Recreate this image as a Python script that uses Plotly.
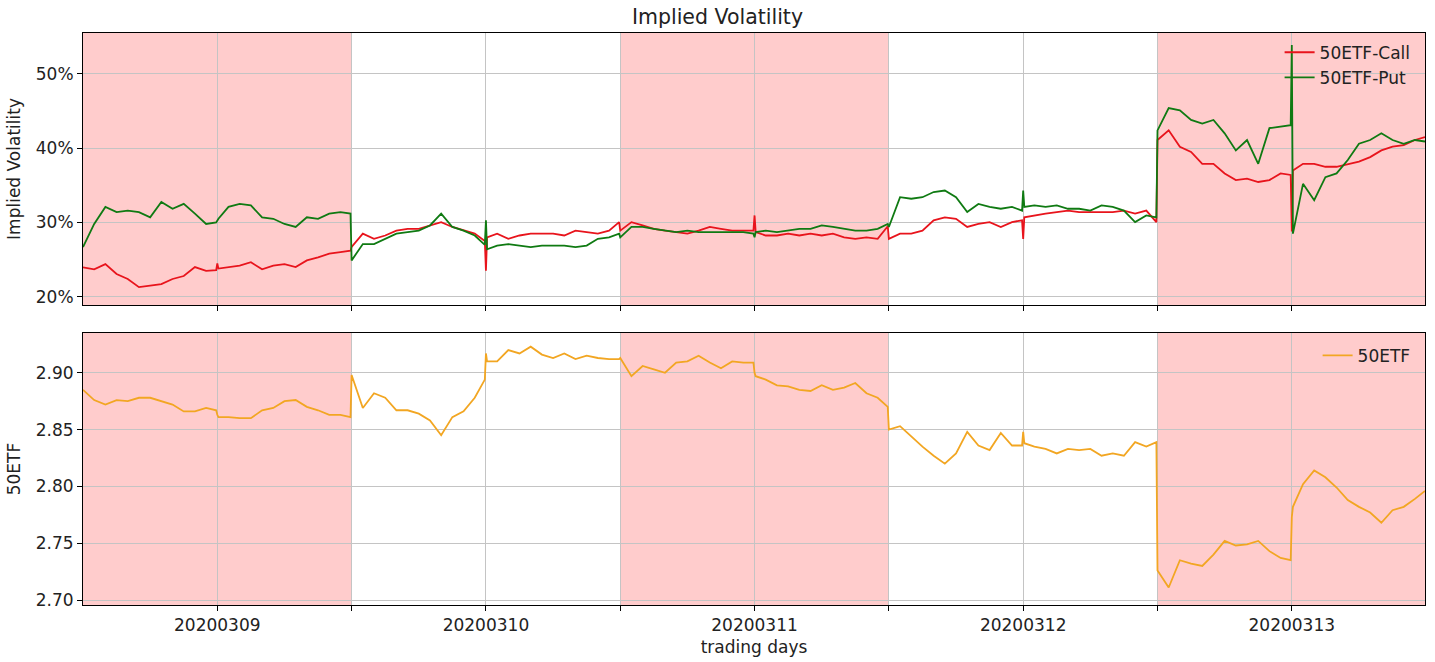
import plotly.graph_objects as go
from plotly.subplots import make_subplots

DAYS = ["20200309", "20200310", "20200311", "20200312", "20200313"]
MINUTES_PER_DAY = 240
# intraday sample offsets (minutes since open)
OFFSETS = [0, 10, 20, 30, 40, 50, 60, 70, 80, 90, 100, 110, 119, 120, 121,
           130, 140, 150, 160, 170, 180, 190, 200, 210, 220, 230, 239]
SHADED_DAYS = [0, 2, 4]

# implied volatility of calls, %, 27 samples per day
CALL_IV = [
    23.97, 23.7, 24.4, 23.07, 22.4, 21.3, 21.5, 21.7, 22.4, 22.8, 24.0, 23.5,
    23.6, 24.5, 23.8,
    24.0, 24.2, 24.65, 23.7, 24.2, 24.4, 24.0, 24.9, 25.3, 25.8, 26.0, 26.2,
    26.7, 28.5, 27.8, 28.25, 28.9, 29.15, 29.15, 29.6, 30.05, 29.4, 28.9, 28.5,
    27.5, 23.5, 28.0,
    28.5, 27.8, 28.25, 28.5, 28.5, 28.5, 28.25, 28.9, 28.7, 28.5, 28.9, 30.05,
    28.9, 30.05, 29.6, 29.15, 28.9, 28.7, 28.5, 28.9, 29.4, 29.15, 28.9, 28.9,
    28.9, 30.95, 28.7,
    28.25, 28.25, 28.5, 28.25, 28.5, 28.25, 28.5, 28.0, 27.8, 28.0, 27.8, 29.5,
    27.8, 28.5, 28.5, 28.9, 30.3, 30.7, 30.5, 29.4, 29.8, 30.05, 29.4, 30.05,
    30.3, 27.8, 30.7,
    30.95, 31.2, 31.4, 31.6, 31.4, 31.4, 31.4, 31.4, 31.6, 31.2, 31.6, 30.05,
    41.1, 42.4, 40.2, 39.5, 37.9, 37.9, 36.6, 35.7, 35.9, 35.45, 35.7, 36.6,
    36.4, 28.8, 37.0,
    37.9, 37.9, 37.5, 37.5, 37.9, 38.2, 38.8, 39.7, 40.2, 40.4, 41.1, 41.5,
]

# implied volatility of puts, %
PUT_IV = [
    26.7, 29.8, 32.1, 31.4, 31.6, 31.4, 30.7, 32.75, 31.85, 32.5, 31.2, 29.8,
    30.0, 30.3, 30.5,
    32.1, 32.5, 32.3, 30.7, 30.5, 29.8, 29.4, 30.7, 30.5, 31.2, 31.4, 31.2,
    24.9, 27.1, 27.1, 27.8, 28.5, 28.7, 28.9, 29.6, 31.2, 29.4, 28.9, 28.25,
    27.0, 30.3, 26.4,
    26.9, 27.1, 26.9, 26.7, 26.9, 26.9, 26.9, 26.7, 26.9, 27.8, 28.0, 28.5,
    28.0, 29.4, 29.4, 29.15, 28.9, 28.7, 28.9, 28.7, 28.7, 28.7, 28.7, 28.7,
    28.5, 28.0, 28.7,
    28.9, 28.7, 28.9, 29.15, 29.15, 29.6, 29.4, 29.15, 28.9, 28.9, 29.15, 29.8,
    29.4, 33.4, 33.2, 33.4, 34.1, 34.3, 33.4, 31.4, 32.5, 32.1, 31.85, 32.1,
    31.6, 34.3, 32.1,
    32.3, 32.1, 32.3, 31.85, 31.85, 31.6, 32.3, 32.1, 31.6, 30.05, 30.95, 30.7,
    42.4, 45.4, 45.1, 43.8, 43.3, 43.8, 42.0, 39.7, 41.1, 37.9, 42.7, 42.9,
    43.1, 53.9, 28.5,
    35.2, 33.0, 36.1, 36.6, 38.4, 40.6, 41.1, 42.0, 41.1, 40.6, 41.1, 40.9,
]

# 50ETF price
ETF = [
    2.885, 2.876, 2.872, 2.876, 2.875, 2.878, 2.878, 2.875, 2.872, 2.866, 2.866, 2.869,
    2.867, 2.863, 2.861,
    2.861, 2.860, 2.860, 2.867, 2.869, 2.875, 2.876, 2.870, 2.867, 2.863, 2.863, 2.861,
    2.898, 2.869, 2.882, 2.878, 2.867, 2.867, 2.864, 2.858, 2.845, 2.861, 2.866, 2.878,
    2.894, 2.917, 2.910,
    2.910, 2.920, 2.917, 2.923, 2.916, 2.913, 2.917, 2.912, 2.915, 2.913, 2.912, 2.912,
    2.913, 2.897, 2.906, 2.903, 2.900, 2.909, 2.910, 2.915, 2.909, 2.904, 2.910, 2.909,
    2.909, 2.900, 2.897,
    2.894, 2.889, 2.888, 2.885, 2.884, 2.889, 2.885, 2.887, 2.891, 2.882, 2.878, 2.870,
    2.850, 2.853, 2.844, 2.835, 2.827, 2.820, 2.829, 2.848, 2.836, 2.832, 2.847, 2.836,
    2.836, 2.848, 2.838,
    2.835, 2.833, 2.829, 2.833, 2.832, 2.833, 2.827, 2.829, 2.827, 2.839, 2.835, 2.839,
    2.726, 2.711, 2.735, 2.732, 2.730, 2.740, 2.752, 2.748, 2.749, 2.752, 2.743, 2.737,
    2.735, 2.773, 2.782,
    2.802, 2.814, 2.808, 2.799, 2.788, 2.782, 2.777, 2.768, 2.779, 2.782, 2.789, 2.796,
]

IV_TICKS = [20, 30, 40, 50]
ETF_TICKS = [2.70, 2.75, 2.80, 2.85, 2.90]

x = [d * MINUTES_PER_DAY + o for d in range(len(DAYS)) for o in OFFSETS]
x_end = len(DAYS) * MINUTES_PER_DAY - 1

tickvals, ticktext = [], []
for d, name in enumerate(DAYS):
    tickvals.append(d * MINUTES_PER_DAY + MINUTES_PER_DAY / 2)
    ticktext.append(name)
    if d > 0:
        tickvals.append(d * MINUTES_PER_DAY)
        ticktext.append("")

FONT = "DejaVu Sans"
TXT = "#222222"
FS = 17
fig = make_subplots(rows=2, cols=1, shared_xaxes=True, vertical_spacing=0.049)

fig.add_trace(go.Scatter(x=x, y=CALL_IV, mode="lines", name="50ETF-Call",
                         line=dict(color="#e8141c", width=1.8), legend="legend"), row=1, col=1)
fig.add_trace(go.Scatter(x=x, y=PUT_IV, mode="lines", name="50ETF-Put",
                         line=dict(color="#0f7a12", width=1.8), legend="legend"), row=1, col=1)
fig.add_trace(go.Scatter(x=x, y=ETF, mode="lines", name="50ETF",
                         line=dict(color="#f2a622", width=1.8), legend="legend2"), row=2, col=1)

for d in SHADED_DAYS:
    x0 = d * MINUTES_PER_DAY
    x1 = min((d + 1) * MINUTES_PER_DAY, x_end)
    for r in (1, 2):
        fig.add_vrect(x0=x0, x1=x1, fillcolor="#ffcccc", opacity=1, line_width=0,
                      layer="below", row=r, col=1)

axis_common = dict(showline=True, linecolor="black", linewidth=1, mirror=True,
                   ticks="outside", ticklen=5, tickcolor="black", automargin=False,
                   showgrid=True, gridcolor="#c4c4c4", gridwidth=1, zeroline=False,
                   tickfont=dict(family=FONT, size=FS, color=TXT))

fig.update_xaxes(range=[0, x_end], tickvals=tickvals, ticktext=ticktext, **axis_common)
fig.update_xaxes(showticklabels=False, row=1, col=1)
fig.update_xaxes(title=dict(text="trading days", font=dict(family=FONT, size=FS, color=TXT),
                            standoff=6), row=2, col=1)

fig.update_yaxes(range=[18.9, 55.5], tickvals=IV_TICKS, ticktext=[f"{v}%" for v in IV_TICKS],
                 title=dict(text="Implied Volatility", font=dict(family=FONT, size=FS, color=TXT),
                            standoff=10), row=1, col=1, **axis_common)
fig.update_yaxes(range=[2.6956, 2.935], tickvals=ETF_TICKS, ticktext=[f"{v:.2f}" for v in ETF_TICKS],
                 title=dict(text="50ETF", font=dict(family=FONT, size=FS, color=TXT),
                            standoff=10), row=2, col=1, **axis_common)

fig.update_layout(
    width=1435, height=662,
    margin=dict(l=83, r=10, t=33, b=57),
    paper_bgcolor="white", plot_bgcolor="white",
    title=dict(text="Implied Volatility", x=0.5, xanchor="center", y=0.975, yanchor="middle",
               font=dict(family=FONT, size=20.5, color=TXT)),
    font=dict(family=FONT, size=FS, color=TXT),
    legend=dict(x=0.993, y=0.997, xanchor="right", yanchor="top", bgcolor="rgba(0,0,0,0)",
                font=dict(family=FONT, size=FS, color=TXT), tracegroupgap=4),
    legend2=dict(x=0.993, y=0.467, xanchor="right", yanchor="top", bgcolor="rgba(0,0,0,0)",
                 font=dict(family=FONT, size=FS, color=TXT)),
    showlegend=True,
)

fig.write_html("out.html", config={"displayModeBar": False},
               post_script="document.body.style.margin='0';document.body.style.overflow='hidden';")
